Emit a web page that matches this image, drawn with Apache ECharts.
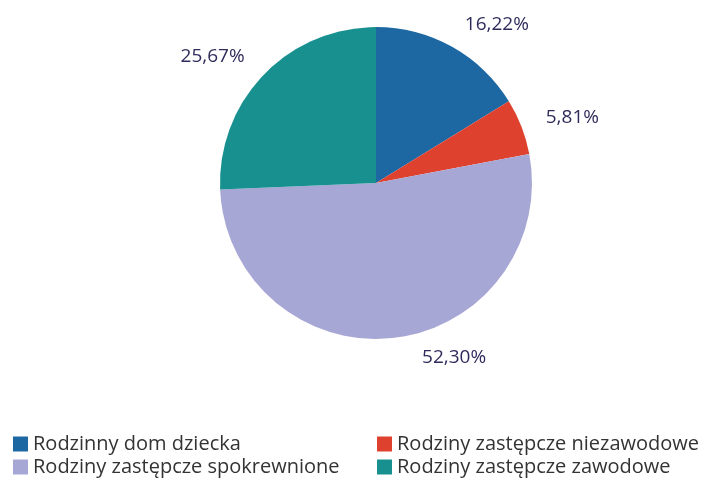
<!DOCTYPE html>
<html>
<head>
<meta charset="utf-8">
<script src="https://cdn.jsdelivr.net/npm/echarts@6/dist/echarts.min.js"></script>
<style>
    html, body { margin: 0; padding: 0; background: #fff; }
    #chart { width: 707px; height: 479px; }
</style>
</head>
<body>
<div id="chart"></div>
<script>
// kategorie i wartości (%)
var categories = ['Rodzinny dom dziecka', 'Rodziny zastępcze niezawodowe', 'Rodziny zastępcze spokrewnione', 'Rodziny zastępcze zawodowe'];
var values = [16.22, 5.81, 52.30, 25.67];
var colors = ['#1d68a2', '#df412f', '#a7a7d5', '#17908f'];

var chart = echarts.init(document.getElementById('chart'));

var pieData = [];
for (var i = 0; i < categories.length; i++) {
    pieData.push({ name: categories[i], value: values[i] });
}
// etykieta 52,30% jest przesunięta w prawo na oryginale
pieData[2].labelLine = { length: 20, length2: 26 };

var legendText = {
    fontFamily: 'Open Sans',
    fontSize: 20,
    lineHeight: 20,
    color: '#333'
};

option = {
    backgroundColor: '#fff',
    color: colors,
    legend: [{
        data: [categories[0], categories[2]],
        orient: 'vertical',
        left: 8,
        top: 429,
        height: 80,
        itemWidth: 15,
        itemHeight: 15,
        itemGap: 3,
        icon: 'rect',
        textStyle: legendText
    }, {
        data: [categories[1], categories[3]],
        orient: 'vertical',
        left: 372,
        top: 429,
        height: 80,
        itemWidth: 15,
        itemHeight: 15,
        itemGap: 3,
        icon: 'rect',
        textStyle: legendText
    }],
    series: [{
        type: 'pie',
        center: [376, 183],
        radius: 156,
        startAngle: 90,
        clockwise: true,
        avoidLabelOverlap: false,
        data: pieData,
        label: {
            show: true,
            position: 'outside',
            distanceToLabelLine: 0,
            fontFamily: 'Open Sans',
            fontSize: 19,
            color: '#2f2c5c',
            formatter: function (params) {
                return params.value.toFixed(2).replace('.', ',') + '%';
            }
        },
        labelLine: {
            show: false,
            length: 26,
            length2: 0
        },
        itemStyle: {
            borderWidth: 0
        },
        emphasis: { disabled: true }
    }]
};

chart.setOption(option);
</script>
</body>
</html>
